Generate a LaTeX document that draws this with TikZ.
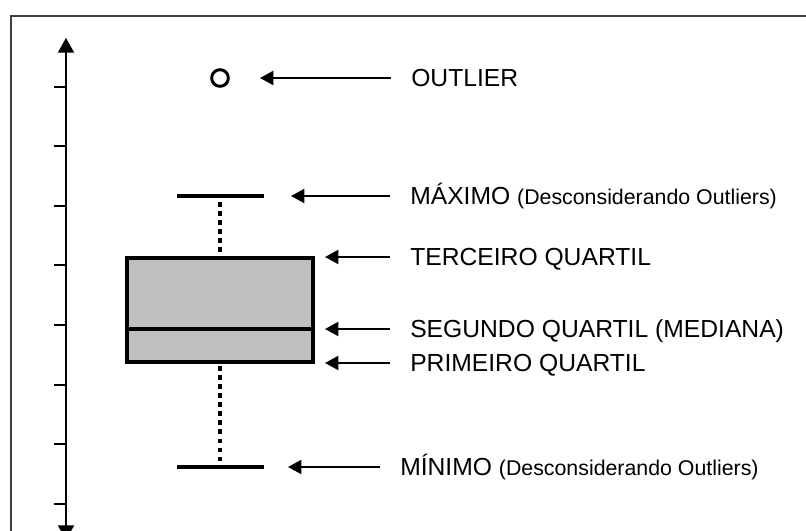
\documentclass[tikz,border=0pt]{standalone}
\usepackage{fontspec}
\setmainfont{Liberation Sans}
\usetikzlibrary{arrows.meta}

\tikzset{
  pointer/.style={line width=1.5pt,-{Triangle[length=10pt,width=10.5pt]},shorten <=15pt},
  label/.style={anchor=west,inner sep=0pt,text height=13.2pt,text depth=0pt,font=\fontsize{18.5}{20}\selectfont},
  whisker/.style={line width=2.4pt},
}
\newcommand{\aside}[1]{{\fontsize{16}{18}\selectfont #1}}

\begin{document}
\begin{tikzpicture}[x=0.75pt,y=-0.75pt]
\useasboundingbox (0,0) rectangle (806,531);
\clip (0,0) rectangle (806,531);

% moldura
\draw[line width=1.4pt,black!75] (11,540) -- (11,16) -- (820,16);

% eixo
\draw[line width=1.5pt,{Triangle[length=11pt,width=12pt]}-{Triangle[length=11pt,width=12pt]}] (66,38) -- (66,540);
\draw[line width=1.5pt] (54,87) -- (66,87) (54,146) -- (66,146) (54,206) -- (66,206)
  (54,265) -- (66,265) (54,325) -- (66,325) (54,385) -- (66,385)
  (54,444) -- (66,444) (54,504) -- (66,504);

% caixa
\coordinate (q1l) at (127,362);
\coordinate (q3r) at (313,258);
\filldraw[fill=black!25,line width=2.4pt] (q1l) rectangle (q3r);
\draw[line width=2.4pt] (127,329) -- (313,329);

% bigodes
\draw[whisker] (177,196) -- (264,196);
\draw[whisker] (177,467) -- (264,467);
\draw[whisker,dash pattern=on 3.4pt off 3.4pt] (220,202) -- (220,258);
\draw[whisker,dash pattern=on 3.4pt off 3.4pt] (220,366) -- (220,467);

% outlier
\node[circle,draw,line width=2.2pt,minimum size=12.5pt,inner sep=0pt] (outlier) at (220,78) {};

% pontas das setas
\coordinate (tipOut) at (260,78);
\coordinate (tipMax) at (291,196);
\coordinate (tipQ3) at (325,257);
\coordinate (tipQ2) at (325,329);
\coordinate (tipQ1) at (325,363);
\coordinate (tipMin) at (288,467);

% rotulos
\node[label] (lblOut) at (411,78) {OUTLIER};
\node[label] (lblMax) at (410,196) {MÁXIMO \aside{(Desconsiderando Outliers)}};
\node[label] (lblQ3) at (410,257) {TERCEIRO QUARTIL};
\node[label] (lblQ2) at (410,329) {SEGUNDO QUARTIL (MEDIANA)};
\node[label] (lblQ1) at (410,363) {PRIMEIRO QUARTIL};
\node[label] (lblMin) at (400,467) {MÍNIMO \aside{(Desconsiderando Outliers)}};

\draw[pointer] (lblOut.west) -- (tipOut);
\draw[pointer] (lblMax.west) -- (tipMax);
\draw[pointer] (lblQ3.west) -- (tipQ3);
\draw[pointer] (lblQ2.west) -- (tipQ2);
\draw[pointer] (lblQ1.west) -- (tipQ1);
\draw[pointer] (lblMin.west) -- (tipMin);

\end{tikzpicture}
\end{document}
